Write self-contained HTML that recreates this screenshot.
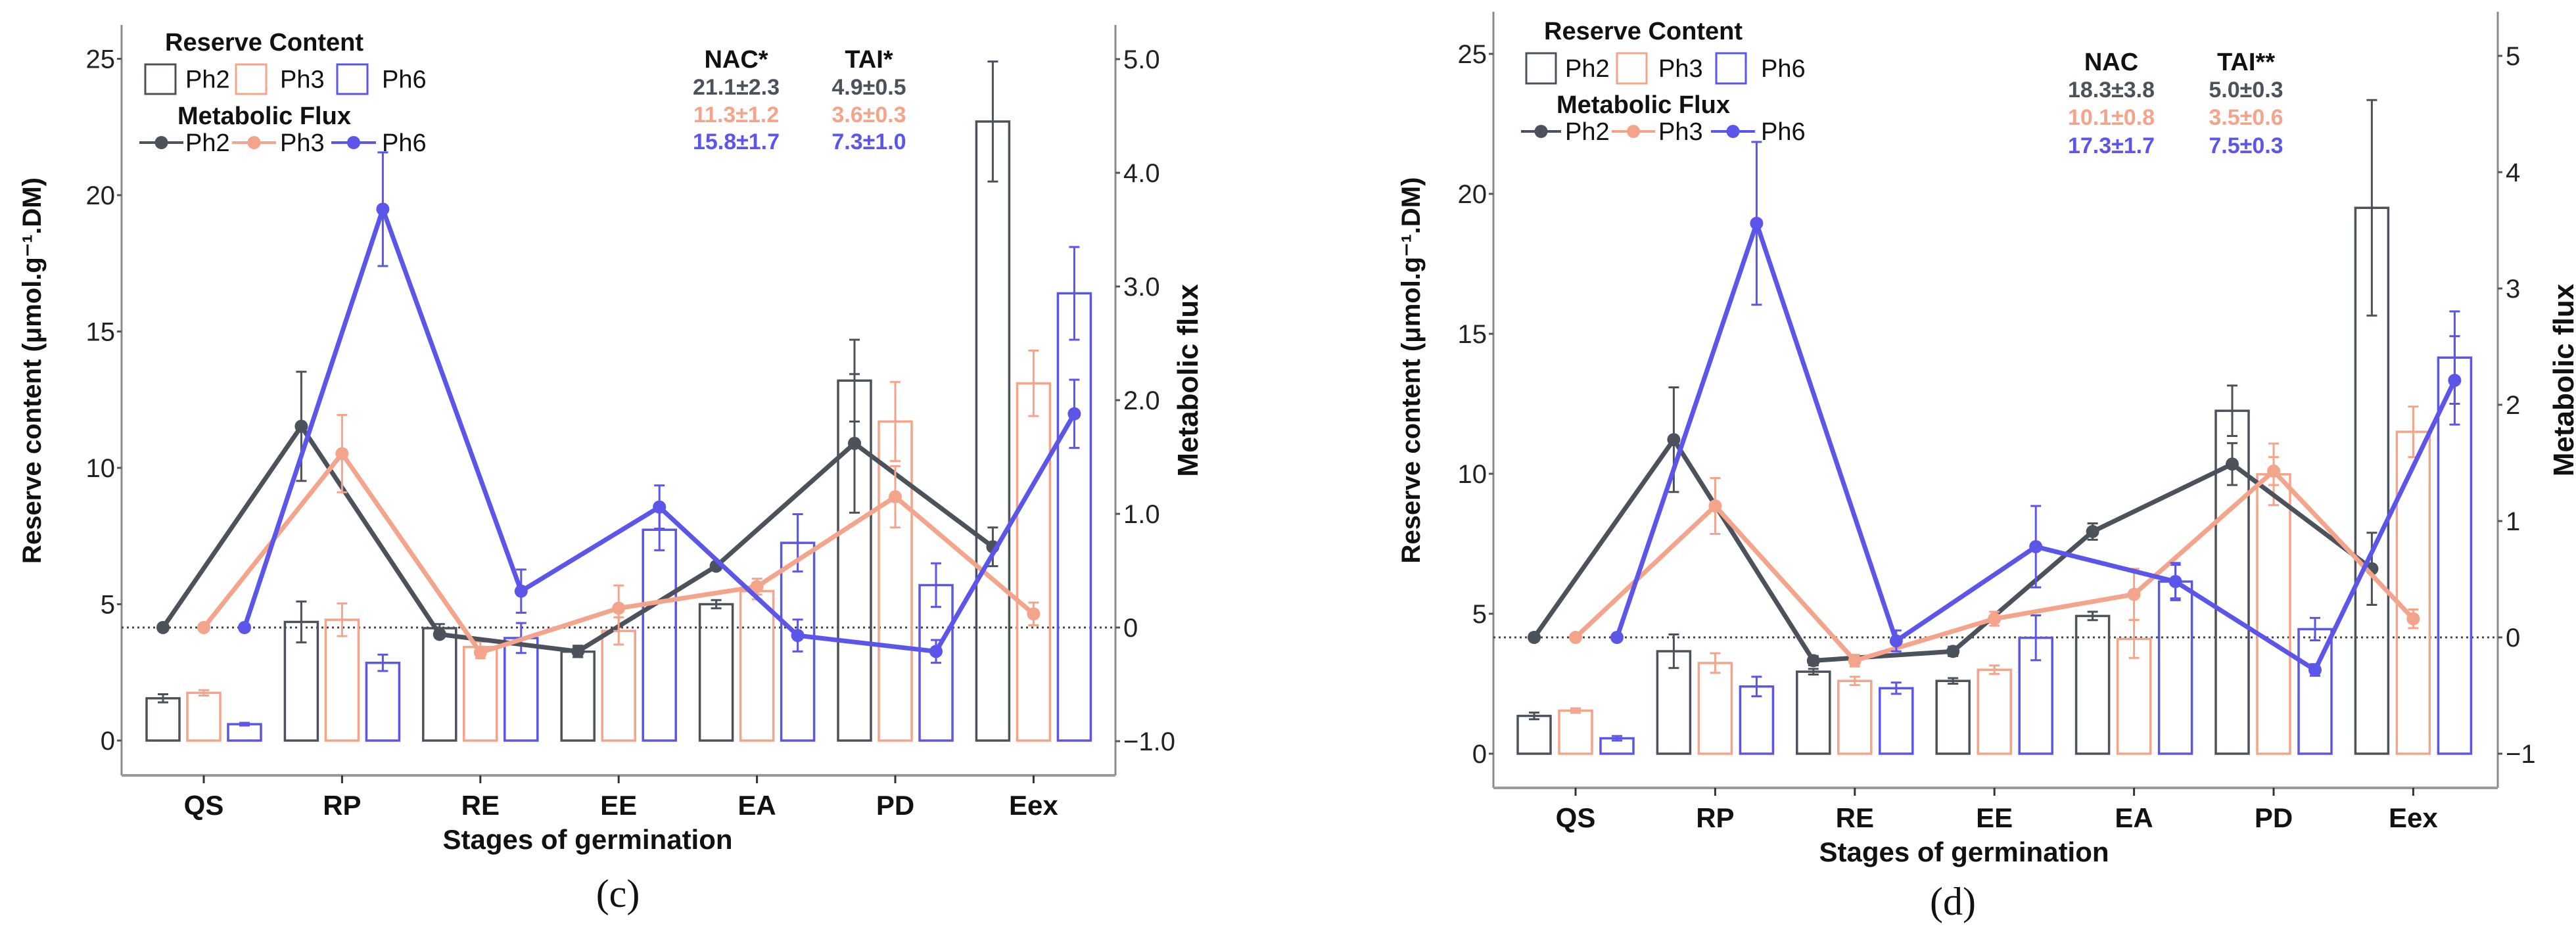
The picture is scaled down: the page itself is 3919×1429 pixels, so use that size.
<!DOCTYPE html>
<html><head><meta charset="utf-8"><title>Reserve content and metabolic flux</title>
<style>
html,body{margin:0;padding:0;background:#fff;}
svg{display:block;font-family:"Liberation Sans",Arial,sans-serif;}
</style></head>
<body>
<svg id="chart" width="3919" height="1429" viewBox="0 0 3919 1429" xmlns="http://www.w3.org/2000/svg">
<g id="c"></g>
<g id="d"></g>
</svg>
<script>
const categories = ['QS','RP','RE','EE','EA','PD','Eex'];
const seriesNames = ['Ph2','Ph3','Ph6'];
const leftTicks = [0,5,10,15,20,25];
const rightTicksC = ['−1.0','0','1.0','2.0','3.0','4.0','5.0'];
const rightTicksD = ['−1','0','1','2','3','4','5'];
const rightTickValues = [-1,0,1,2,3,4,5];

// Panel (c) reserve content (bars)
const resC_Ph2 = [1.55,4.35,4.12,3.26,5.0,13.2,22.7];
const resC_Ph3 = [1.75,4.43,3.43,4.02,5.48,11.7,13.1];
const resC_Ph6 = [0.6,2.85,3.76,7.73,7.25,5.7,16.4];
const resErrC_Ph2 = [0.15,0.75,0.15,0.2,0.15,1.5,2.2];
const resErrC_Ph3 = [0.1,0.6,0.2,0.5,0.3,1.45,1.2];
const resErrC_Ph6 = [0.05,0.3,0.55,0.75,1.05,0.8,1.7];
// Panel (c) metabolic flux (lines)
const fluxC_Ph2 = [0,1.77,-0.06,-0.21,0.54,1.62,0.71];
const fluxC_Ph3 = [0,1.53,-0.22,0.17,0.36,1.15,0.12];
const fluxC_Ph6 = [0,3.68,0.32,1.06,-0.07,-0.21,1.88];
const fluxErrC_Ph2 = [0,0.48,0.03,0.05,0.03,0.61,0.17];
const fluxErrC_Ph3 = [0,0.34,0.05,0.2,0.07,0.27,0.1];
const fluxErrC_Ph6 = [0,0.5,0.19,0.19,0.14,0.1,0.3];
const nacC = ['21.1±2.3','11.3±1.2','15.8±1.7'];
const taiC = ['4.9±0.5','3.6±0.3','7.3±1.0'];

// Panel (d) reserve content (bars)
const resD_Ph2 = [1.35,3.66,2.93,2.6,4.92,12.25,19.5];
const resD_Ph3 = [1.54,3.24,2.6,3.0,4.1,9.98,11.5];
const resD_Ph6 = [0.55,2.4,2.34,4.14,6.15,4.45,14.15];
const resErrD_Ph2 = [0.12,0.6,0.1,0.1,0.15,0.9,3.85];
const resErrD_Ph3 = [0.08,0.35,0.15,0.15,0.68,1.1,0.9];
const resErrD_Ph6 = [0.08,0.35,0.2,0.8,0.6,0.4,1.65];
// Panel (d) metabolic flux (lines)
const fluxD_Ph2 = [0,1.70,-0.2,-0.12,0.91,1.49,0.59];
const fluxD_Ph3 = [0,1.13,-0.2,0.16,0.37,1.43,0.16];
const fluxD_Ph6 = [0,3.56,-0.03,0.78,0.48,-0.28,2.21];
const fluxErrD_Ph2 = [0,0.45,0.04,0.04,0.07,0.18,0.31];
const fluxErrD_Ph3 = [0,0.24,0.05,0.06,0.22,0.12,0.08];
const fluxErrD_Ph6 = [0,0.7,0.09,0.35,0.16,0.05,0.38];
const nacD = ['18.3±3.8','10.1±0.8','17.3±1.7'];
const taiD = ['5.0±0.3','3.5±0.6','7.5±0.3'];

const COLORS = ['#4b525b','#f4a48a','#5b55ea'];
const NS = 'http://www.w3.org/2000/svg';
function mk(parent, tag, attrs, text){
  const el = document.createElementNS(NS, tag);
  for (const k in attrs) el.setAttribute(k, attrs[k]);
  if (text !== undefined) el.textContent = text;
  parent.appendChild(el);
  return el;
}

function drawPanel(g, L, res, resErr, flux, fluxErr, rightLabels, nac, tai, nacTitle, taiTitle, letter){
  const ry = v => L.y0 - v * L.ru;
  const fy = v => L.f0 - v * L.fu;
  const cx = i => L.x0 + i * L.step;
  const offs = [-L.off, 0, L.off];
  let el;
  el = mk(g,'line',{x1:L.xl,y1:L.top,x2:L.xl,y2:L.yb,stroke:'#8a8a8a','stroke-width':3});
  
  
  el = mk(g,'line',{x1:L.xr,y1:L.top,x2:L.xr,y2:L.yb,stroke:'#8a8a8a','stroke-width':3});
  
  
  el = mk(g,'line',{x1:L.xl,y1:L.yb,x2:L.xr,y2:L.yb,stroke:'#9a9a9a','stroke-width':4});
  
  
  leftTicks.forEach(v => {
    const y = ry(v);
    let t = mk(g,'line',{x1:L.xl-7,y1:y,x2:L.xl,y2:y,stroke:'#555','stroke-width':3});
    
    
    let tx = mk(g,'text',{x:L.xl-10,y:y+14,'text-anchor':'end','font-size':40,fill:'#222'}, String(v));
    
    
  });
  rightTickValues.forEach((v,i) => {
    const y = fy(v);
    let t = mk(g,'line',{x1:L.xr,y1:y,x2:L.xr+7,y2:y,stroke:'#555','stroke-width':3});
    
    
    let tx = mk(g,'text',{x:L.xr+12,y:y+14,'font-size':40,fill:'#222'}, rightLabels[i]);
    
    
  });
  categories.forEach((c,i) => {
    let t = mk(g,'line',{x1:cx(i),y1:L.yb,x2:cx(i),y2:L.yb+12,stroke:'#333','stroke-width':3});
    
    
    let tx = mk(g,'text',{x:cx(i),y:L.yb+60,'text-anchor':'middle','font-size':42,'font-weight':'bold',fill:'#111'}, c);
    
    
  });
  el = mk(g,'line',{x1:L.xl,y1:fy(0),x2:L.xr,y2:fy(0),stroke:'#444','stroke-width':3,'stroke-dasharray':'3,5'});
  
  
  for (let s=0;s<3;s++){
    res[s].forEach((v,i) => {
      const x = cx(i)+offs[s];
      let b = mk(g,'rect',{x:x-25,y:ry(v),width:50,height:ry(0)-ry(v),fill:'none',stroke:COLORS[s],'stroke-width':3.5});
      
      
      const e = resErr[s][i];
      let eb = mk(g,'path',{d:`M${x},${ry(v+e)}V${ry(v-e)}M${x-8},${ry(v+e)}H${x+8}M${x-8},${ry(v-e)}H${x+8}`,stroke:COLORS[s],'stroke-width':3,fill:'none'});
      
      
    });
  }
  for (let s=0;s<3;s++){
    const pts = flux[s].map((v,i)=>(cx(i)+offs[s])+','+fy(v)).join(' ');
    let pl = mk(g,'polyline',{points:pts,fill:'none',stroke:COLORS[s],'stroke-width':7,'stroke-linejoin':'round'});
    
    
    flux[s].forEach((v,i) => {
      const x = cx(i)+offs[s];
      const e = fluxErr[s][i];
      if (e>0){
        let eb = mk(g,'path',{d:`M${x},${fy(v+e)}V${fy(v-e)}M${x-8},${fy(v+e)}H${x+8}M${x-8},${fy(v-e)}H${x+8}`,stroke:COLORS[s],'stroke-width':3,fill:'none'});
        
        
      }
      let p = mk(g,'circle',{cx:x,cy:fy(v),r:10,fill:COLORS[s]});
      
      
    });
  }
  el = mk(g,'text',{x:0,y:0,transform:`translate(${L.ylx},${(L.top+L.yb)/2-45}) rotate(-90)`,'text-anchor':'middle','font-size':40,'font-weight':'bold',fill:'#111'}, 'Reserve content (μmol.g⁻¹.DM)');
  
  
  el = mk(g,'text',{x:0,y:0,transform:`translate(${L.yrx},${(L.top+L.yb)/2-30}) rotate(-90)`,'text-anchor':'middle','font-size':44,'font-weight':'bold',fill:'#111'}, 'Metabolic flux');
  
  
  el = mk(g,'text',{x:L.xtx,y:L.yb+112,'text-anchor':'middle','font-size':42,'font-weight':'bold',fill:'#111'}, 'Stages of germination');
  
  
  el = mk(g,'text',{x:L.letx,y:L.lety,'text-anchor':'middle','font-size':60,'font-family':'"Liberation Serif",serif',fill:'#111'}, letter);
  
  
  const lg = L.lg;
  el = mk(g,'text',{x:lg.titleX,y:lg.t1y,'text-anchor':'middle','font-size':38,'font-weight':'bold',fill:'#111'}, 'Reserve Content');
  
  
  el = mk(g,'text',{x:lg.titleX,y:lg.t2y,'text-anchor':'middle','font-size':38,'font-weight':'bold',fill:'#111'}, 'Metabolic Flux');
  
  
  for (let s=0;s<3;s++){
    let r = mk(g,'rect',{x:lg.boxX[s],y:lg.boxY,width:lg.boxW,height:lg.boxH,fill:'none',stroke:COLORS[s],'stroke-width':3});
    
    
    let t = mk(g,'text',{x:lg.labX[s],y:lg.boxY+lg.boxH/2+13,'font-size':38,fill:'#111'}, seriesNames[s]);
    
    
    let ln = mk(g,'line',{x1:lg.lnX[s][0],y1:lg.lnY,x2:lg.lnX[s][1],y2:lg.lnY,stroke:COLORS[s],'stroke-width':4});
    
    
    let dt = mk(g,'circle',{cx:(lg.lnX[s][0]+lg.lnX[s][1])/2,cy:lg.lnY,r:10,fill:COLORS[s]});
    
    
    let t2 = mk(g,'text',{x:lg.labX[s],y:lg.lnY+13,'font-size':38,fill:'#111'}, seriesNames[s]);
    
    
  }
  el = mk(g,'text',{x:L.nacX,y:L.nacY[0],'text-anchor':'middle','font-size':38,'font-weight':'bold',fill:'#111'}, nacTitle);
  
  
  el = mk(g,'text',{x:L.taiX,y:L.nacY[0],'text-anchor':'middle','font-size':38,'font-weight':'bold',fill:'#111'}, taiTitle);
  
  
  for (let s=0;s<3;s++){
    let a = mk(g,'text',{x:L.nacX,y:L.nacY[s+1],'text-anchor':'middle','font-size':34,'font-weight':'bold',fill:COLORS[s]}, nac[s]);
    
    
    let b = mk(g,'text',{x:L.taiX,y:L.nacY[s+1],'text-anchor':'middle','font-size':34,'font-weight':'bold',fill:COLORS[s]}, tai[s]);
    
    
  }
}

const layoutC = {xl:185,xr:1697,top:38,yb:1180,y0:1127,ru:41.5,f0:955,fu:173,x0:310,step:210.4,off:62,
  ylx:62,yrx:1822,xtx:894,letx:940,lety:1380,
  lg:{titleX:402,t1y:77,t2y:189,boxX:[221,359,513],boxY:98,boxW:46,boxH:45,labX:[282,426,581],lnY:217,lnX:[[212,279],[353,420],[504,572]]},
  nacX:1120,taiX:1322,nacY:[103,144,186,227]};
const layoutD = {xl:2272,xr:3800,top:18,yb:1199,y0:1147,ru:42.6,f0:970,fu:177,x0:2397,step:212.4,off:63,
  ylx:2160,yrx:3915,xtx:2988,letx:2971,lety:1392,
  lg:{titleX:2500,t1y:60,t2y:172,boxX:[2322,2460,2611],boxY:81,boxW:45,boxH:46,labX:[2381,2523,2679],lnY:200,lnX:[[2314,2375],[2452,2518],[2603,2670]]},
  nacX:3212,taiX:3417,nacY:[107,148,190,233]};

drawPanel(document.getElementById('c'), layoutC,
  [resC_Ph2,resC_Ph3,resC_Ph6],[resErrC_Ph2,resErrC_Ph3,resErrC_Ph6],
  [fluxC_Ph2,fluxC_Ph3,fluxC_Ph6],[fluxErrC_Ph2,fluxErrC_Ph3,fluxErrC_Ph6],
  rightTicksC, nacC, taiC, 'NAC*', 'TAI*', '(c)');
drawPanel(document.getElementById('d'), layoutD,
  [resD_Ph2,resD_Ph3,resD_Ph6],[resErrD_Ph2,resErrD_Ph3,resErrD_Ph6],
  [fluxD_Ph2,fluxD_Ph3,fluxD_Ph6],[fluxErrD_Ph2,fluxErrD_Ph3,fluxErrD_Ph6],
  rightTicksD, nacD, taiD, 'NAC', 'TAI**', '(d)');
</script>
</body></html>
